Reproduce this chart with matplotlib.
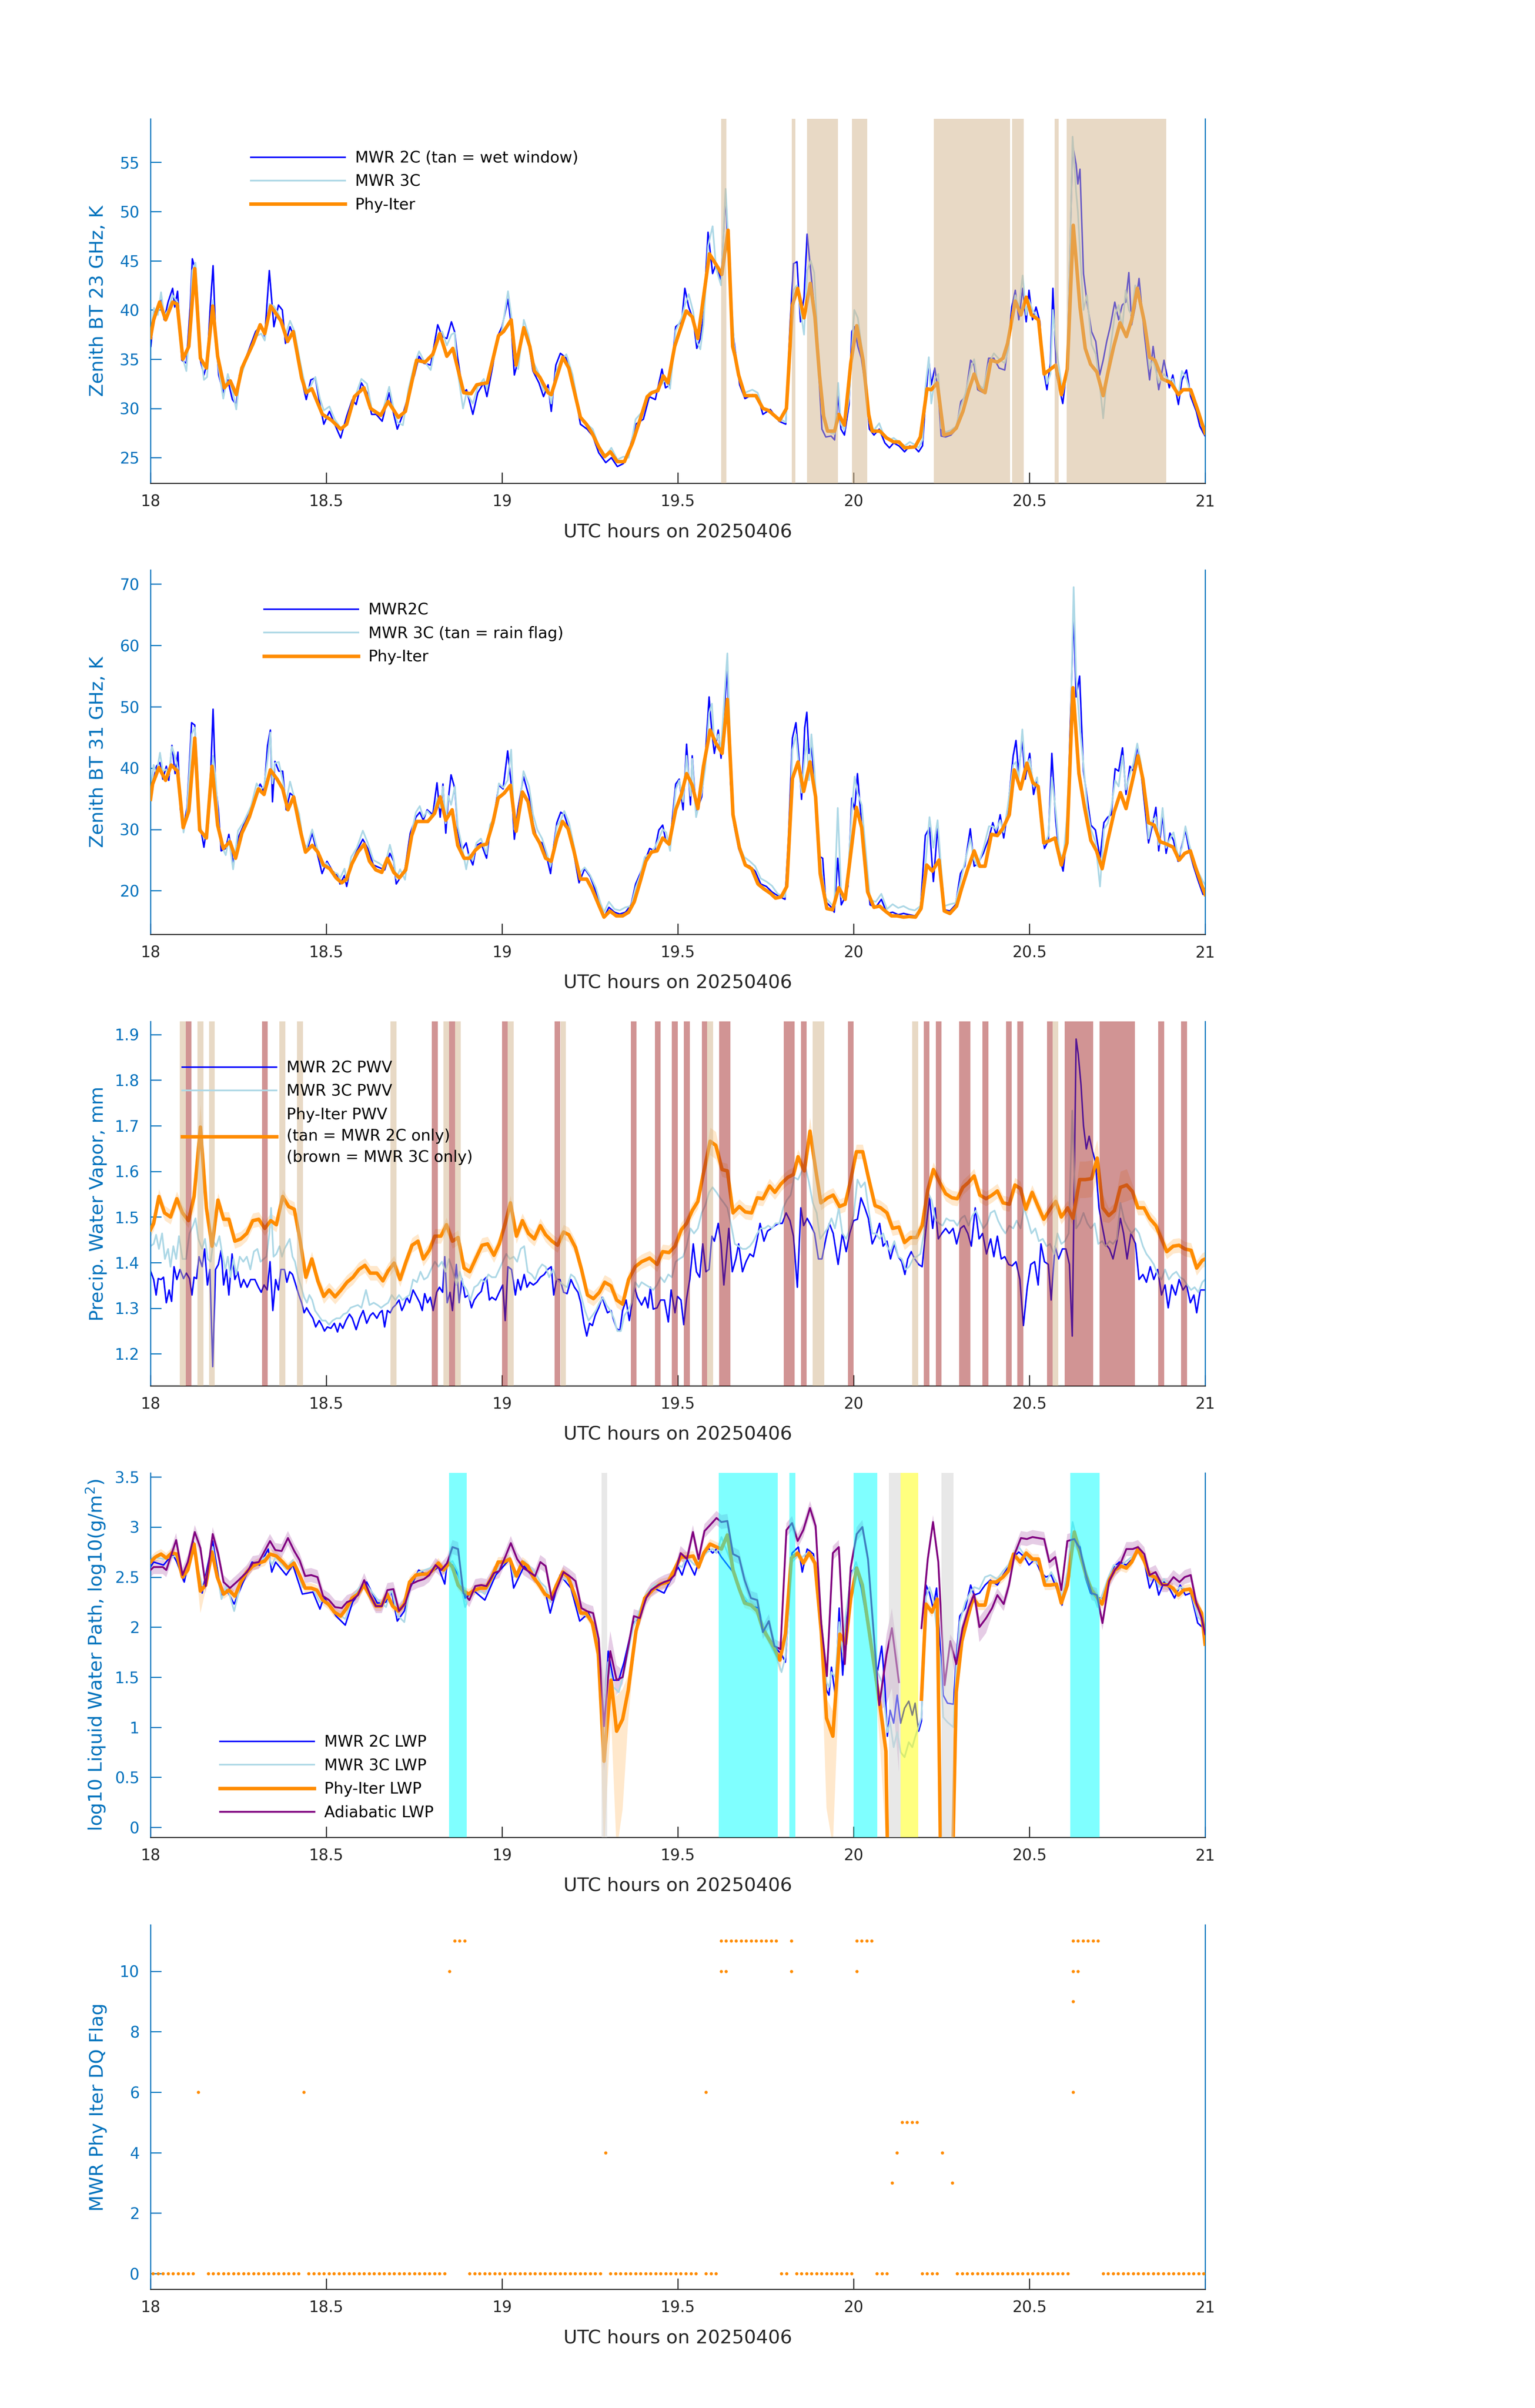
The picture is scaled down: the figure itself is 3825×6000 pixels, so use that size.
import numpy as np
import matplotlib.pyplot as plt
from matplotlib.ticker import FuncFormatter

AXBLUE = '#0072BD'
DARK = '#262626'
C2 = 'blue'
C3 = 'lightblue'
CPHY = 'darkorange'
CADI = 'purple'

# ---------------- Panel 1: 23 GHz brightness temperature ----------------
# (time, MWR 2C, MWR 3C)
bt23_mwr = [
    (18.001, 36.3, 37.5), (18.010, 39.8, 40.2), (18.021, 40.3, 39.5), (18.030, 41.0, 41.8), (18.039, 39.0, 39.4),
    (18.050, 40.8, 40.0), (18.063, 42.2, 41.5), (18.069, 40.3, 41.2), (18.077, 41.9, 40.8), (18.089, 34.9, 35.5),
    (18.102, 34.6, 33.8), (18.113, 40.3, 39.0), (18.119, 45.2, 44.0), (18.128, 44.0, 44.8), (18.142, 34.9, 36.0),
    (18.152, 33.4, 32.9), (18.161, 34.6, 33.2), (18.170, 40.3, 38.5), (18.178, 44.5, 41.0), (18.185, 37.8, 36.6),
    (18.194, 33.4, 34.0), (18.207, 31.6, 31.0), (18.220, 32.9, 33.5), (18.233, 30.9, 31.8), (18.244, 30.4, 29.9),
    (18.253, 33.4, 32.8), (18.273, 35.3, 35.0), (18.299, 37.8, 37.3), (18.315, 38.5, 37.6), (18.325, 37.3, 36.9),
    (18.338, 44.0, 40.6), (18.351, 38.3, 40.4), (18.364, 40.5, 39.6), (18.375, 40.0, 38.5), (18.384, 36.6, 37.5),
    (18.397, 38.3, 38.9), (18.410, 37.1, 37.8), (18.427, 33.4, 34.5), (18.443, 30.9, 31.8), (18.456, 32.9, 32.3),
    (18.469, 33.1, 33.2), (18.482, 30.4, 31.0), (18.493, 28.4, 29.8), (18.509, 29.7, 30.2), (18.524, 28.4, 28.9),
    (18.541, 27.0, 28.0), (18.558, 29.2, 28.3), (18.574, 30.9, 30.5), (18.585, 30.4, 31.5), (18.600, 32.6, 33.0),
    (18.616, 31.6, 32.5), (18.629, 29.4, 30.0), (18.642, 29.4, 29.6), (18.659, 28.7, 29.5), (18.679, 31.6, 32.2),
    (18.692, 29.4, 29.9), (18.702, 27.9, 28.6), (18.718, 29.4, 28.3), (18.734, 31.4, 32.0), (18.751, 33.4, 34.5),
    (18.764, 35.3, 35.8), (18.777, 34.6, 34.9), (18.797, 34.4, 33.9), (18.817, 38.5, 37.5), (18.830, 37.3, 37.8),
    (18.843, 37.1, 36.4), (18.856, 38.8, 37.5), (18.865, 37.8, 37.7), (18.873, 35.3, 34.0), (18.889, 31.6, 30.0),
    (18.899, 31.9, 31.6), (18.917, 29.4, 30.5), (18.931, 31.6, 32.2), (18.948, 32.6, 33.0), (18.957, 31.2, 32.0),
    (18.974, 34.4, 35.0), (18.987, 37.3, 36.8), (19.000, 38.3, 38.0), (19.017, 41.1, 41.9), (19.026, 38.5, 39.5),
    (19.035, 33.4, 35.0), (19.046, 34.9, 34.0), (19.062, 38.3, 39.0), (19.075, 36.8, 37.5), (19.088, 33.8, 34.8),
    (19.105, 32.6, 33.5), (19.118, 31.2, 31.8), (19.131, 32.4, 32.0), (19.140, 29.7, 30.5), (19.153, 34.4, 33.6),
    (19.166, 35.6, 34.8), (19.183, 35.1, 35.5), (19.201, 32.9, 33.4), (19.223, 28.4, 29.0), (19.242, 27.9, 28.4),
    (19.258, 27.2, 27.9), (19.275, 25.5, 26.2), (19.295, 24.5, 25.2), (19.311, 25.0, 26.0), (19.328, 24.1, 24.8),
    (19.345, 24.4, 25.1), (19.360, 25.5, 25.0), (19.380, 28.4, 28.9), (19.402, 28.9, 29.8), (19.419, 31.2, 31.6),
    (19.436, 30.9, 31.8), (19.455, 34.0, 32.5), (19.465, 32.1, 32.9), (19.478, 32.4, 32.0), (19.494, 38.3, 37.9),
    (19.511, 38.8, 39.2), (19.520, 42.2, 40.5), (19.531, 40.3, 41.6), (19.544, 39.0, 39.8), (19.554, 36.1, 36.8),
    (19.564, 37.1, 36.0), (19.573, 39.3, 38.5), (19.586, 47.9, 46.5), (19.599, 43.7, 48.5), (19.609, 44.7, 44.2),
    (19.623, 43.0, 42.5), (19.636, 51.6, 52.3), (19.651, 40.3, 42.0), (19.660, 36.8, 36.4), (19.676, 32.4, 33.0),
    (19.691, 31.0, 31.6), (19.712, 31.4, 31.9), (19.727, 31.3, 31.6), (19.742, 29.4, 30.0), (19.763, 29.9, 29.6),
    (19.788, 28.7, 29.0), (19.807, 28.4, 28.6), (19.819, 38.3, 36.0), (19.829, 44.7, 42.0), (19.839, 44.9, 42.5),
    (19.849, 38.8, 40.0), (19.859, 41.3, 37.5), (19.868, 47.7, 44.0), (19.878, 44.0, 45.0), (19.888, 40.3, 43.8),
    (19.898, 35.3, 37.0), (19.910, 27.9, 29.5), (19.921, 27.1, 28.0), (19.936, 27.2, 27.5), (19.946, 26.8, 27.4),
    (19.956, 31.4, 32.6), (19.964, 27.9, 28.4), (19.974, 27.3, 27.8), (19.987, 30.4, 31.0), (19.995, 37.8, 36.0),
    (20.002, 38.3, 40.0), (20.012, 36.3, 39.2), (20.022, 35.1, 36.5), (20.033, 32.4, 33.8), (20.045, 27.9, 28.5),
    (20.058, 27.3, 27.8), (20.073, 27.9, 28.5), (20.089, 26.5, 27.0), (20.102, 26.0, 26.8), (20.114, 26.5, 27.0),
    (20.129, 26.2, 26.6), (20.145, 25.6, 26.2), (20.160, 26.2, 26.6), (20.175, 26.0, 26.3), (20.185, 25.6, 26.0),
    (20.196, 26.2, 26.8), (20.204, 30.4, 32.0), (20.214, 34.9, 35.2), (20.221, 32.4, 30.5), (20.231, 34.1, 33.0),
    (20.241, 31.6, 33.5), (20.249, 27.2, 28.0), (20.262, 27.1, 27.6), (20.277, 27.3, 27.8), (20.292, 27.9, 28.2),
    (20.305, 30.7, 30.2), (20.318, 31.2, 31.5), (20.333, 34.9, 34.0), (20.343, 34.4, 35.0), (20.353, 31.9, 32.5),
    (20.369, 31.6, 32.0), (20.384, 35.1, 34.5), (20.399, 35.1, 35.6), (20.414, 34.1, 35.0), (20.430, 33.9, 34.6),
    (20.440, 36.6, 36.0), (20.450, 40.3, 39.5), (20.460, 42.0, 41.5), (20.470, 39.0, 40.2), (20.481, 42.2, 43.5),
    (20.491, 38.8, 39.5), (20.499, 42.0, 41.0), (20.509, 39.0, 40.0), (20.519, 40.3, 39.5), (20.530, 38.8, 38.0),
    (20.537, 34.6, 35.5), (20.550, 31.9, 32.5), (20.560, 34.6, 33.5), (20.567, 42.2, 40.0), (20.577, 33.4, 36.0),
    (20.595, 30.5, 31.5), (20.608, 34.4, 33.5), (20.623, 56.8, 57.6), (20.633, 54.8, 52.0), (20.638, 52.8, 50.0),
    (20.644, 54.3, 46.0), (20.654, 43.7, 40.0), (20.664, 40.8, 41.5), (20.677, 37.8, 36.5), (20.689, 36.8, 35.5),
    (20.700, 33.4, 32.5), (20.710, 34.9, 29.0), (20.720, 36.8, 33.0), (20.730, 38.3, 36.0), (20.743, 40.8, 39.5),
    (20.754, 39.0, 40.5), (20.764, 40.5, 38.0), (20.774, 40.8, 42.0), (20.783, 43.8, 40.0), (20.791, 38.5, 39.5),
    (20.801, 40.3, 42.5), (20.812, 43.2, 42.0), (20.827, 37.6, 38.5), (20.842, 32.9, 34.0), (20.852, 36.3, 35.0),
    (20.868, 31.9, 32.6), (20.883, 34.9, 33.5), (20.898, 32.1, 32.8), (20.908, 33.4, 33.0), (20.924, 30.4, 31.2),
    (20.934, 32.9, 33.8), (20.947, 33.9, 33.0), (20.959, 31.2, 31.5), (20.975, 29.7, 30.5), (20.985, 28.2, 29.5),
    (20.995, 27.5, 28.2), (21.000, 27.2, 28.0),
]
bt23_phy = [
    (18.000, 37.2), (18.009, 39.0), (18.026, 40.8), (18.043, 39.0), (18.063, 40.8), (18.076, 40.6), (18.092, 35.0),
    (18.109, 36.3), (18.126, 44.2), (18.142, 35.1), (18.159, 34.1), (18.177, 40.4), (18.191, 35.3), (18.210, 32.1),
    (18.227, 32.8), (18.244, 31.4), (18.260, 34.1), (18.292, 36.6), (18.312, 38.5), (18.325, 37.6), (18.342, 40.4),
    (18.371, 38.9), (18.390, 36.8), (18.406, 37.8), (18.430, 33.1), (18.443, 31.6), (18.459, 32.0), (18.489, 29.4),
    (18.515, 28.8), (18.541, 27.9), (18.558, 28.4), (18.580, 31.2), (18.607, 32.1), (18.626, 30.0), (18.655, 29.3),
    (18.676, 30.7), (18.705, 29.1), (18.725, 29.7), (18.757, 34.9), (18.781, 34.7), (18.803, 35.5), (18.823, 37.6),
    (18.843, 35.3), (18.860, 36.1), (18.891, 31.6), (18.912, 31.5), (18.928, 32.4), (18.941, 32.5), (18.958, 32.6),
    (18.990, 37.4), (19.004, 37.8), (19.026, 39.0), (19.040, 34.4), (19.062, 38.2), (19.079, 36.3), (19.092, 33.8),
    (19.107, 33.2), (19.131, 31.6), (19.140, 31.4), (19.173, 35.2), (19.190, 34.1), (19.223, 29.1), (19.240, 28.4),
    (19.256, 27.5), (19.275, 26.1), (19.292, 25.1), (19.308, 25.6), (19.328, 24.6), (19.348, 24.6), (19.371, 26.5),
    (19.393, 28.9), (19.413, 31.2), (19.426, 31.6), (19.443, 31.8), (19.459, 33.3), (19.472, 32.6), (19.491, 36.3),
    (19.524, 39.9), (19.541, 39.3), (19.557, 37.1), (19.590, 45.7), (19.616, 44.2), (19.625, 43.6), (19.643, 48.1),
    (19.656, 36.3), (19.663, 35.3), (19.673, 33.4), (19.691, 31.3), (19.722, 31.3), (19.742, 30.0), (19.758, 29.8),
    (19.790, 28.8), (19.809, 30.0), (19.826, 40.5), (19.841, 42.2), (19.859, 39.2), (19.877, 42.7), (19.890, 39.3),
    (19.903, 33.4), (19.915, 29.2), (19.926, 27.7), (19.946, 27.7), (19.958, 29.4), (19.974, 28.3), (19.992, 34.6),
    (20.009, 38.4), (20.027, 34.9), (20.043, 29.4), (20.053, 27.7), (20.075, 27.7), (20.094, 27.0), (20.114, 26.6),
    (20.129, 26.6), (20.145, 26.0), (20.175, 26.1), (20.190, 27.1), (20.209, 32.0), (20.221, 31.9), (20.238, 32.6),
    (20.257, 27.3), (20.277, 27.5), (20.292, 28.0), (20.311, 29.7), (20.328, 31.9), (20.343, 33.5), (20.358, 32.0),
    (20.374, 31.6), (20.391, 34.9), (20.409, 34.7), (20.425, 35.1), (20.438, 36.6), (20.460, 40.9), (20.476, 39.5),
    (20.491, 41.3), (20.506, 39.5), (20.526, 39.0), (20.542, 33.5), (20.575, 34.4), (20.591, 31.4), (20.608, 34.0),
    (20.625, 48.6), (20.644, 40.3), (20.659, 36.1), (20.674, 34.5), (20.692, 33.7), (20.710, 31.3), (20.725, 33.9),
    (20.740, 36.3), (20.758, 38.7), (20.776, 37.3), (20.791, 39.0), (20.807, 42.2), (20.827, 38.8), (20.842, 35.2),
    (20.857, 34.9), (20.878, 33.0), (20.903, 32.6), (20.924, 31.4), (20.937, 31.9), (20.959, 31.9), (20.980, 29.7),
    (21.000, 27.5),
]
wet_window = [(19.623, 19.638), (19.824, 19.834), (19.868, 19.956), (19.995, 20.039), (20.228, 20.445),
              (20.451, 20.484), (20.572, 20.583), (20.606, 20.889)]

# ---------------- Panel 2: 31 GHz brightness temperature ----------------
bt31_mwr = [
    (18.000, 35.3, 36.0), (18.009, 38.2, 40.5), (18.017, 40.3, 39.0), (18.027, 40.9, 42.5), (18.035, 38.2, 39.5),
    (18.045, 40.3, 39.8), (18.052, 38.0, 38.8), (18.061, 43.7, 43.5), (18.070, 39.1, 41.8), (18.078, 42.6, 40.0),
    (18.085, 33.2, 35.5), (18.094, 30.3, 29.5), (18.104, 33.6, 33.0), (18.117, 47.4, 45.5), (18.126, 47.0, 46.6),
    (18.133, 38.6, 40.5), (18.140, 31.1, 30.8), (18.152, 27.1, 28.5), (18.165, 32.4, 31.0), (18.172, 40.3, 38.0),
    (18.178, 49.6, 42.0), (18.185, 37.4, 38.5), (18.193, 33.2, 31.5), (18.201, 26.5, 27.5), (18.214, 26.9, 25.8),
    (18.223, 29.2, 28.5), (18.235, 24.4, 23.5), (18.249, 28.6, 29.8), (18.265, 30.7, 31.2), (18.286, 33.2, 33.8),
    (18.302, 36.1, 37.5), (18.312, 37.4, 36.5), (18.323, 36.1, 37.0), (18.333, 43.7, 41.5), (18.341, 46.2, 45.8),
    (18.347, 34.5, 37.5), (18.354, 41.1, 40.8), (18.365, 39.5, 41.0), (18.376, 39.5, 38.0), (18.386, 33.2, 34.5),
    (18.397, 35.9, 37.8), (18.410, 35.3, 35.0), (18.423, 31.1, 32.5), (18.434, 28.2, 28.0), (18.444, 26.3, 27.0),
    (18.460, 29.4, 30.0), (18.476, 25.7, 26.5), (18.488, 22.8, 24.0), (18.502, 24.8, 24.5), (18.518, 23.2, 23.0),
    (18.532, 22.5, 22.8), (18.539, 21.1, 22.0), (18.552, 22.5, 23.6), (18.558, 20.7, 21.5), (18.571, 24.4, 25.5),
    (18.587, 26.5, 27.0), (18.604, 28.4, 29.8), (18.618, 26.9, 27.8), (18.634, 24.2, 25.0), (18.650, 23.8, 24.5),
    (18.666, 23.4, 23.8), (18.681, 26.1, 27.5), (18.692, 24.8, 25.0), (18.699, 21.1, 22.0), (18.710, 22.1, 23.5),
    (18.724, 23.6, 21.8), (18.739, 29.4, 28.5), (18.755, 32.0, 32.8), (18.766, 32.8, 33.8), (18.776, 31.5, 32.0),
    (18.787, 33.2, 33.0), (18.803, 32.4, 32.0), (18.815, 37.6, 35.0), (18.824, 32.0, 33.5), (18.832, 37.4, 37.0),
    (18.840, 29.4, 31.0), (18.847, 34.9, 35.5), (18.855, 38.9, 34.0), (18.866, 36.6, 37.0), (18.874, 29.9, 30.5),
    (18.885, 26.5, 27.5), (18.898, 27.8, 23.5), (18.906, 25.7, 26.0), (18.917, 24.2, 25.0), (18.927, 27.4, 27.8),
    (18.940, 27.8, 28.5), (18.956, 25.3, 26.0), (18.966, 29.9, 30.8), (18.980, 33.2, 32.0), (18.991, 37.2, 37.5),
    (19.003, 36.6, 36.8), (19.016, 42.8, 38.0), (19.026, 37.4, 43.0), (19.035, 28.4, 30.0), (19.045, 33.2, 31.5),
    (19.061, 38.6, 39.5), (19.077, 35.3, 37.0), (19.088, 31.1, 32.5), (19.100, 28.2, 30.0), (19.114, 27.8, 28.5),
    (19.128, 25.3, 26.0), (19.138, 22.8, 24.0), (19.146, 26.9, 26.5), (19.156, 31.1, 30.5), (19.167, 32.8, 31.5),
    (19.177, 32.4, 33.0), (19.191, 29.9, 31.0), (19.204, 26.1, 27.5), (19.219, 21.3, 22.8), (19.235, 23.6, 23.8),
    (19.251, 22.3, 22.5), (19.267, 19.8, 20.5), (19.280, 17.3, 18.0), (19.290, 15.7, 16.5), (19.304, 17.3, 18.2),
    (19.320, 16.5, 17.0), (19.335, 16.2, 16.8), (19.351, 16.5, 17.3), (19.367, 17.7, 17.5), (19.380, 21.1, 20.5),
    (19.393, 22.8, 22.5), (19.406, 24.8, 25.5), (19.420, 26.9, 26.0), (19.434, 26.5, 27.0), (19.446, 29.9, 28.5),
    (19.457, 30.7, 30.0), (19.467, 27.8, 29.5), (19.478, 27.8, 26.5), (19.494, 37.4, 36.5), (19.504, 38.2, 38.0),
    (19.515, 33.2, 34.5), (19.525, 43.9, 42.0), (19.536, 34.0, 35.5), (19.541, 42.0, 41.5), (19.552, 32.8, 32.0),
    (19.568, 35.3, 36.0), (19.578, 41.6, 40.0), (19.589, 51.6, 49.0), (19.597, 45.8, 50.5), (19.604, 42.4, 44.0),
    (19.615, 46.2, 45.5), (19.623, 41.6, 43.0), (19.633, 50.0, 52.0), (19.641, 56.5, 58.7), (19.650, 37.4, 42.0),
    (19.660, 30.7, 31.5), (19.673, 26.9, 27.5), (19.689, 24.4, 25.5), (19.705, 24.0, 24.8), (19.720, 23.2, 24.0),
    (19.736, 21.1, 22.0), (19.752, 20.7, 21.5), (19.768, 19.8, 20.8), (19.784, 19.2, 19.5), (19.805, 18.6, 19.0),
    (19.815, 29.0, 25.0), (19.826, 44.9, 43.0), (19.836, 47.4, 45.5), (19.844, 42.0, 40.5), (19.852, 34.9, 36.0),
    (19.861, 46.6, 42.0), (19.867, 49.1, 44.5), (19.873, 42.4, 38.0), (19.880, 43.7, 45.5), (19.889, 37.4, 39.5),
    (19.900, 25.7, 27.5), (19.912, 25.3, 22.0), (19.921, 18.2, 18.8), (19.937, 17.3, 17.8), (19.945, 16.5, 17.5),
    (19.955, 25.3, 33.5), (19.965, 17.7, 19.0), (19.976, 19.0, 18.5), (19.984, 20.7, 22.5), (19.995, 35.1, 33.0),
    (20.003, 33.2, 38.6), (20.011, 39.1, 36.0), (20.023, 30.7, 34.0), (20.037, 22.8, 25.0), (20.047, 17.7, 18.5),
    (20.063, 17.3, 18.2), (20.079, 18.6, 19.5), (20.095, 16.3, 17.0), (20.111, 16.5, 17.8), (20.127, 16.1, 17.2),
    (20.142, 16.3, 17.5), (20.158, 16.1, 17.0), (20.174, 15.9, 16.8), (20.190, 16.9, 17.5), (20.204, 29.0, 24.0),
    (20.216, 30.3, 32.0), (20.227, 21.5, 27.0), (20.239, 30.3, 31.5), (20.248, 23.6, 24.5), (20.258, 16.9, 17.5),
    (20.274, 16.7, 17.8), (20.290, 17.7, 18.0), (20.304, 22.8, 21.5), (20.316, 24.0, 24.5), (20.332, 30.1, 28.5),
    (20.343, 24.0, 25.0), (20.353, 24.4, 24.0), (20.369, 26.1, 26.8), (20.385, 28.6, 30.5), (20.396, 31.1, 30.5),
    (20.406, 29.0, 30.0), (20.417, 32.4, 31.5), (20.427, 28.6, 29.5), (20.438, 32.8, 33.5), (20.454, 42.0, 40.5),
    (20.462, 44.5, 41.0), (20.469, 39.5, 38.0), (20.480, 44.5, 46.3), (20.488, 38.2, 40.0), (20.501, 42.4, 41.5),
    (20.512, 35.7, 37.0), (20.522, 38.2, 38.5), (20.533, 31.1, 32.0), (20.543, 26.9, 27.5), (20.554, 28.2, 29.0),
    (20.564, 42.4, 38.5), (20.575, 31.5, 33.0), (20.585, 25.7, 26.5), (20.596, 23.2, 25.0), (20.607, 29.0, 32.0),
    (20.617, 48.3, 46.0), (20.626, 65.4, 69.5), (20.633, 51.6, 55.0), (20.643, 55.0, 47.0), (20.654, 39.5, 40.5),
    (20.665, 34.9, 33.5), (20.675, 30.7, 30.0), (20.688, 29.9, 28.0), (20.701, 25.3, 20.7), (20.712, 31.1, 30.0),
    (20.723, 32.0, 31.0), (20.733, 32.4, 33.5), (20.744, 39.9, 38.0), (20.754, 39.5, 37.0), (20.765, 43.3, 42.0),
    (20.775, 35.7, 36.5), (20.786, 40.3, 39.0), (20.796, 39.5, 40.8), (20.807, 43.7, 44.0), (20.818, 39.1, 40.5),
    (20.828, 34.0, 36.0), (20.839, 27.8, 28.5), (20.850, 30.7, 31.5), (20.860, 33.6, 32.0), (20.868, 26.5, 27.5),
    (20.879, 32.4, 33.5), (20.889, 26.1, 27.0), (20.900, 29.4, 28.5), (20.910, 28.2, 29.5), (20.923, 24.8, 25.5),
    (20.934, 27.4, 27.0), (20.944, 29.9, 30.5), (20.955, 26.5, 27.5), (20.967, 24.0, 25.0), (20.981, 21.5, 23.0),
    (20.994, 19.4, 21.5), (21.000, 19.8, 21.0),
]
bt31_phy = [
    (18.000, 34.9), (18.006, 37.4), (18.024, 40.1), (18.043, 38.0), (18.059, 40.5), (18.077, 39.5), (18.093, 30.3),
    (18.109, 33.0), (18.126, 44.9), (18.140, 29.9), (18.159, 28.6), (18.175, 40.3), (18.191, 30.7), (18.207, 26.9),
    (18.226, 28.0), (18.242, 25.3), (18.260, 29.4), (18.281, 32.0), (18.307, 36.6), (18.323, 35.7), (18.341, 39.7),
    (18.360, 38.2), (18.376, 36.6), (18.391, 33.2), (18.407, 35.3), (18.428, 29.4), (18.441, 26.3), (18.460, 27.4),
    (18.476, 26.3), (18.492, 24.2), (18.510, 23.6), (18.528, 22.1), (18.544, 21.3), (18.558, 21.9), (18.573, 24.4),
    (18.590, 26.3), (18.608, 27.6), (18.623, 24.8), (18.641, 23.4), (18.658, 23.0), (18.674, 25.3), (18.692, 23.0),
    (18.708, 22.1), (18.726, 23.4), (18.743, 29.0), (18.757, 31.3), (18.789, 31.3), (18.808, 32.6), (18.824, 35.3),
    (18.840, 31.5), (18.858, 33.2), (18.874, 27.4), (18.892, 25.3), (18.908, 25.3), (18.924, 26.6), (18.940, 27.4),
    (18.956, 27.6), (18.974, 31.1), (18.989, 35.1), (19.006, 35.9), (19.024, 37.2), (19.040, 29.7), (19.058, 36.1),
    (19.074, 34.5), (19.091, 29.4), (19.107, 27.8), (19.124, 25.3), (19.140, 24.8), (19.156, 28.6), (19.172, 31.3),
    (19.188, 30.1), (19.204, 26.6), (19.223, 21.9), (19.241, 21.9), (19.256, 20.3), (19.275, 17.7), (19.290, 15.7),
    (19.307, 16.7), (19.325, 15.9), (19.343, 15.9), (19.360, 16.5), (19.376, 18.2), (19.393, 21.5), (19.409, 24.8),
    (19.425, 26.3), (19.441, 26.5), (19.457, 28.6), (19.475, 27.6), (19.494, 33.2), (19.510, 35.7), (19.525, 39.1),
    (19.541, 37.2), (19.557, 33.4), (19.573, 40.3), (19.592, 46.2), (19.608, 44.1), (19.626, 42.4), (19.641, 51.2),
    (19.657, 32.4), (19.675, 27.1), (19.692, 24.2), (19.710, 23.6), (19.728, 21.1), (19.745, 20.3), (19.763, 19.6),
    (19.778, 18.8), (19.794, 19.0), (19.810, 20.7), (19.826, 38.3), (19.842, 41.0), (19.858, 36.2), (19.876, 41.0),
    (19.892, 35.3), (19.905, 22.8), (19.924, 17.1), (19.940, 16.9), (19.958, 20.5), (19.976, 18.6), (19.992, 26.1),
    (20.008, 33.6), (20.023, 30.3), (20.040, 19.8), (20.058, 17.3), (20.074, 17.5), (20.090, 16.7), (20.108, 15.9),
    (20.124, 15.9), (20.142, 15.7), (20.158, 15.8), (20.176, 15.7), (20.192, 17.1), (20.208, 24.2), (20.224, 23.2),
    (20.243, 25.0), (20.258, 16.7), (20.274, 16.3), (20.293, 17.5), (20.308, 20.5), (20.325, 23.6), (20.343, 26.5),
    (20.359, 24.0), (20.374, 24.0), (20.392, 29.2), (20.409, 29.0), (20.424, 30.1), (20.443, 32.4), (20.457, 39.7),
    (20.475, 36.6), (20.493, 40.8), (20.510, 37.6), (20.525, 37.0), (20.541, 27.8), (20.559, 28.2), (20.573, 28.6),
    (20.591, 24.2), (20.607, 27.8), (20.624, 53.1), (20.641, 39.1), (20.657, 33.6), (20.675, 28.2), (20.691, 26.5),
    (20.707, 23.6), (20.723, 28.2), (20.741, 32.8), (20.759, 36.0), (20.775, 33.4), (20.791, 37.4), (20.809, 42.0),
    (20.823, 38.2), (20.839, 31.1), (20.855, 30.7), (20.872, 28.0), (20.891, 27.6), (20.909, 27.1), (20.926, 25.0),
    (20.942, 26.1), (20.958, 26.5), (20.974, 23.6), (20.989, 21.1), (21.000, 19.4),
]

# ---------------- Panel 3: precipitable water vapor ----------------
pwv_2c = [
    (18.000, 1.382), (18.009, 1.363), (18.016, 1.329), (18.022, 1.365), (18.030, 1.363), (18.037, 1.368),
    (18.045, 1.312), (18.053, 1.340), (18.060, 1.315), (18.067, 1.391), (18.075, 1.363), (18.084, 1.385),
    (18.094, 1.365), (18.102, 1.377), (18.111, 1.365), (18.118, 1.329), (18.124, 1.368), (18.131, 1.365),
    (18.138, 1.413), (18.147, 1.391), (18.154, 1.430), (18.162, 1.351), (18.169, 1.385), (18.177, 1.172),
    (18.185, 1.385), (18.193, 1.396), (18.201, 1.427), (18.208, 1.351), (18.216, 1.385), (18.223, 1.329),
    (18.232, 1.419), (18.240, 1.363), (18.248, 1.380), (18.257, 1.346), (18.265, 1.363), (18.275, 1.346),
    (18.285, 1.363), (18.297, 1.363), (18.307, 1.346), (18.315, 1.335), (18.323, 1.351), (18.332, 1.340),
    (18.340, 1.402), (18.348, 1.295), (18.356, 1.363), (18.364, 1.340), (18.371, 1.385), (18.381, 1.385),
    (18.388, 1.357), (18.396, 1.380), (18.404, 1.374), (18.411, 1.357), (18.422, 1.329), (18.430, 1.312),
    (18.437, 1.290), (18.444, 1.301), (18.452, 1.290), (18.462, 1.278), (18.470, 1.259), (18.480, 1.273),
    (18.488, 1.262), (18.495, 1.250), (18.503, 1.259), (18.513, 1.256), (18.523, 1.267), (18.532, 1.248),
    (18.539, 1.267), (18.547, 1.256), (18.556, 1.273), (18.566, 1.287), (18.574, 1.278), (18.585, 1.253),
    (18.595, 1.278), (18.605, 1.295), (18.615, 1.267), (18.625, 1.284), (18.633, 1.290), (18.644, 1.278),
    (18.652, 1.290), (18.659, 1.295), (18.666, 1.259), (18.674, 1.295), (18.682, 1.290), (18.689, 1.301),
    (18.697, 1.307), (18.707, 1.318), (18.715, 1.295), (18.722, 1.307), (18.729, 1.324), (18.737, 1.312),
    (18.747, 1.340), (18.758, 1.324), (18.766, 1.312), (18.773, 1.295), (18.780, 1.332), (18.788, 1.312),
    (18.796, 1.324), (18.804, 1.295), (18.814, 1.335), (18.822, 1.346), (18.831, 1.335), (18.837, 1.413),
    (18.844, 1.312), (18.852, 1.335), (18.859, 1.295), (18.870, 1.396), (18.878, 1.312), (18.886, 1.365),
    (18.895, 1.324), (18.905, 1.329), (18.913, 1.301), (18.921, 1.318), (18.931, 1.329), (18.941, 1.337),
    (18.949, 1.363), (18.956, 1.368), (18.964, 1.318), (18.971, 1.324), (18.982, 1.318), (18.992, 1.335),
    (19.002, 1.351), (19.009, 1.273), (19.017, 1.391), (19.027, 1.385), (19.038, 1.329), (19.045, 1.363),
    (19.053, 1.340), (19.063, 1.374), (19.071, 1.346), (19.079, 1.357), (19.089, 1.351), (19.099, 1.357),
    (19.109, 1.368), (19.120, 1.374), (19.130, 1.385), (19.140, 1.391), (19.147, 1.329), (19.155, 1.363),
    (19.165, 1.363), (19.175, 1.335), (19.185, 1.332), (19.196, 1.363), (19.206, 1.346), (19.216, 1.335),
    (19.224, 1.312), (19.233, 1.267), (19.241, 1.239), (19.249, 1.267), (19.257, 1.262), (19.265, 1.284),
    (19.275, 1.301), (19.285, 1.324), (19.292, 1.307), (19.300, 1.290), (19.310, 1.295), (19.318, 1.273),
    (19.326, 1.256), (19.335, 1.250), (19.343, 1.295), (19.353, 1.318), (19.362, 1.273), (19.369, 1.307),
    (19.377, 1.346), (19.385, 1.324), (19.397, 1.307), (19.407, 1.324), (19.415, 1.301), (19.422, 1.346),
    (19.430, 1.298), (19.441, 1.301), (19.451, 1.318), (19.462, 1.318), (19.473, 1.270), (19.481, 1.340),
    (19.492, 1.290), (19.499, 1.326), (19.509, 1.318), (19.517, 1.264), (19.525, 1.321), (19.534, 1.363),
    (19.544, 1.441), (19.553, 1.380), (19.562, 1.368), (19.571, 1.441), (19.580, 1.380), (19.589, 1.385),
    (19.597, 1.458), (19.604, 1.447), (19.615, 1.486), (19.623, 1.441), (19.631, 1.351), (19.645, 1.475),
    (19.655, 1.380), (19.665, 1.408), (19.673, 1.441), (19.684, 1.380), (19.694, 1.402), (19.705, 1.419),
    (19.715, 1.413), (19.726, 1.452), (19.734, 1.486), (19.745, 1.447), (19.755, 1.469), (19.766, 1.475),
    (19.776, 1.481), (19.787, 1.486), (19.797, 1.486), (19.808, 1.509), (19.819, 1.492), (19.829, 1.458),
    (19.840, 1.346), (19.850, 1.520), (19.858, 1.481), (19.868, 1.497), (19.879, 1.481), (19.889, 1.464),
    (19.900, 1.408), (19.910, 1.408), (19.921, 1.452), (19.931, 1.486), (19.942, 1.464), (19.956, 1.396),
    (19.968, 1.464), (19.979, 1.424), (19.989, 1.464), (20.000, 1.492), (20.011, 1.495), (20.021, 1.542),
    (20.032, 1.520), (20.042, 1.497), (20.053, 1.441), (20.063, 1.458), (20.074, 1.486), (20.084, 1.436),
    (20.095, 1.447), (20.105, 1.408), (20.116, 1.441), (20.127, 1.413), (20.137, 1.402), (20.146, 1.374),
    (20.154, 1.408), (20.164, 1.424), (20.174, 1.408), (20.185, 1.396), (20.195, 1.391), (20.206, 1.475),
    (20.216, 1.542), (20.225, 1.475), (20.232, 1.520), (20.241, 1.452), (20.251, 1.464), (20.262, 1.475),
    (20.272, 1.464), (20.283, 1.475), (20.293, 1.441), (20.304, 1.475), (20.314, 1.481), (20.325, 1.464),
    (20.335, 1.436), (20.346, 1.520), (20.357, 1.452), (20.367, 1.464), (20.378, 1.419), (20.390, 1.452),
    (20.399, 1.413), (20.409, 1.458), (20.420, 1.408), (20.430, 1.413), (20.441, 1.396), (20.451, 1.393),
    (20.462, 1.402), (20.473, 1.363), (20.483, 1.262), (20.494, 1.346), (20.504, 1.396), (20.515, 1.402),
    (20.525, 1.351), (20.533, 1.441), (20.543, 1.402), (20.554, 1.396), (20.562, 1.318), (20.573, 1.436),
    (20.583, 1.408), (20.594, 1.430), (20.604, 1.430), (20.614, 1.396), (20.622, 1.239), (20.633, 1.890),
    (20.639, 1.857), (20.647, 1.789), (20.654, 1.700), (20.662, 1.649), (20.670, 1.677), (20.680, 1.643),
    (20.688, 1.621), (20.698, 1.520), (20.707, 1.481), (20.717, 1.441), (20.728, 1.430), (20.738, 1.408),
    (20.749, 1.447), (20.759, 1.497), (20.768, 1.464), (20.778, 1.408), (20.789, 1.464), (20.802, 1.441),
    (20.812, 1.363), (20.823, 1.374), (20.833, 1.357), (20.844, 1.391), (20.854, 1.363), (20.865, 1.385),
    (20.876, 1.329), (20.886, 1.351), (20.895, 1.301), (20.905, 1.351), (20.916, 1.329), (20.926, 1.363),
    (20.937, 1.340), (20.947, 1.351), (20.958, 1.312), (20.968, 1.329), (20.976, 1.290), (20.986, 1.340),
    (21.000, 1.340),
]
pwv_3c = [
    (18.000, 1.436), (18.009, 1.441), (18.016, 1.461), (18.024, 1.430), (18.033, 1.464), (18.041, 1.408),
    (18.050, 1.430), (18.057, 1.391), (18.065, 1.436), (18.073, 1.408), (18.081, 1.458), (18.091, 1.408),
    (18.101, 1.408), (18.111, 1.464), (18.121, 1.481), (18.128, 1.497), (18.136, 1.452), (18.147, 1.430),
    (18.155, 1.452), (18.163, 1.408), (18.171, 1.402), (18.179, 1.447), (18.187, 1.436), (18.196, 1.458),
    (18.204, 1.419), (18.213, 1.385), (18.220, 1.413), (18.228, 1.368), (18.236, 1.408), (18.244, 1.374),
    (18.254, 1.413), (18.264, 1.402), (18.274, 1.413), (18.284, 1.385), (18.294, 1.424), (18.304, 1.430),
    (18.313, 1.402), (18.322, 1.408), (18.330, 1.413), (18.338, 1.464), (18.343, 1.520), (18.350, 1.413),
    (18.358, 1.419), (18.367, 1.436), (18.374, 1.413), (18.381, 1.430), (18.389, 1.441), (18.396, 1.452),
    (18.404, 1.413), (18.411, 1.402), (18.420, 1.368), (18.427, 1.351), (18.437, 1.324), (18.445, 1.312),
    (18.452, 1.329), (18.460, 1.318), (18.468, 1.295), (18.478, 1.284), (18.488, 1.273), (18.498, 1.273),
    (18.508, 1.264), (18.518, 1.273), (18.529, 1.278), (18.539, 1.278), (18.549, 1.287), (18.559, 1.290),
    (18.569, 1.301), (18.579, 1.304), (18.590, 1.307), (18.600, 1.301), (18.613, 1.340), (18.623, 1.307),
    (18.635, 1.312), (18.646, 1.307), (18.656, 1.301), (18.666, 1.307), (18.676, 1.312), (18.686, 1.329),
    (18.697, 1.318), (18.707, 1.329), (18.717, 1.318), (18.727, 1.324), (18.737, 1.329), (18.747, 1.363),
    (18.758, 1.357), (18.768, 1.380), (18.778, 1.363), (18.788, 1.368), (18.798, 1.385), (18.809, 1.402),
    (18.819, 1.391), (18.829, 1.402), (18.839, 1.380), (18.849, 1.408), (18.859, 1.385), (18.870, 1.351),
    (18.880, 1.380), (18.890, 1.351), (18.900, 1.340), (18.910, 1.318), (18.921, 1.346), (18.931, 1.351),
    (18.941, 1.363), (18.951, 1.357), (18.961, 1.374), (18.971, 1.368), (18.982, 1.368), (18.992, 1.385),
    (19.002, 1.402), (19.012, 1.419), (19.022, 1.408), (19.033, 1.413), (19.043, 1.402), (19.053, 1.430),
    (19.063, 1.436), (19.073, 1.380), (19.084, 1.374), (19.094, 1.363), (19.104, 1.385), (19.114, 1.396),
    (19.124, 1.391), (19.134, 1.368), (19.145, 1.385), (19.155, 1.363), (19.165, 1.357), (19.175, 1.351),
    (19.185, 1.346), (19.196, 1.374), (19.206, 1.368), (19.216, 1.351), (19.226, 1.324), (19.236, 1.295),
    (19.246, 1.273), (19.257, 1.284), (19.267, 1.295), (19.277, 1.312), (19.287, 1.324), (19.297, 1.307),
    (19.308, 1.295), (19.318, 1.278), (19.328, 1.250), (19.338, 1.250), (19.348, 1.284), (19.358, 1.295),
    (19.369, 1.312), (19.379, 1.357), (19.389, 1.346), (19.397, 1.357), (19.409, 1.351), (19.420, 1.346),
    (19.430, 1.340), (19.441, 1.351), (19.451, 1.368), (19.462, 1.357), (19.473, 1.374), (19.483, 1.368),
    (19.494, 1.402), (19.504, 1.408), (19.515, 1.413), (19.525, 1.436), (19.536, 1.475), (19.546, 1.464),
    (19.557, 1.475), (19.568, 1.509), (19.578, 1.525), (19.589, 1.554), (19.599, 1.565), (19.610, 1.554),
    (19.620, 1.542), (19.631, 1.531), (19.641, 1.520), (19.652, 1.481), (19.662, 1.441), (19.673, 1.436),
    (19.684, 1.430), (19.694, 1.430), (19.705, 1.436), (19.715, 1.447), (19.726, 1.464), (19.736, 1.475),
    (19.747, 1.475), (19.757, 1.481), (19.768, 1.475), (19.778, 1.486), (19.789, 1.486), (19.800, 1.520),
    (19.810, 1.537), (19.821, 1.548), (19.831, 1.587), (19.842, 1.582), (19.852, 1.599), (19.863, 1.610),
    (19.873, 1.576), (19.884, 1.531), (19.895, 1.509), (19.905, 1.452), (19.916, 1.464), (19.926, 1.475),
    (19.937, 1.497), (19.947, 1.475), (19.958, 1.520), (19.968, 1.464), (19.979, 1.452), (19.989, 1.475),
    (20.000, 1.503), (20.011, 1.582), (20.021, 1.565), (20.032, 1.576), (20.042, 1.520), (20.053, 1.464),
    (20.063, 1.464), (20.074, 1.452), (20.084, 1.464), (20.095, 1.436), (20.105, 1.424), (20.116, 1.447),
    (20.127, 1.413), (20.137, 1.408), (20.148, 1.385), (20.158, 1.391), (20.169, 1.408), (20.179, 1.413),
    (20.190, 1.419), (20.200, 1.464), (20.211, 1.554), (20.222, 1.537), (20.232, 1.497), (20.243, 1.486),
    (20.253, 1.481), (20.264, 1.497), (20.274, 1.492), (20.285, 1.492), (20.295, 1.481), (20.306, 1.497),
    (20.316, 1.503), (20.327, 1.481), (20.338, 1.503), (20.348, 1.514), (20.359, 1.492), (20.369, 1.475),
    (20.380, 1.486), (20.390, 1.509), (20.401, 1.514), (20.411, 1.492), (20.422, 1.475), (20.432, 1.464),
    (20.443, 1.481), (20.454, 1.475), (20.464, 1.492), (20.475, 1.475), (20.485, 1.520), (20.496, 1.492),
    (20.506, 1.464), (20.517, 1.475), (20.527, 1.447), (20.538, 1.452), (20.549, 1.436), (20.559, 1.441),
    (20.570, 1.419), (20.580, 1.464), (20.591, 1.441), (20.601, 1.447), (20.612, 1.464), (20.622, 1.733),
    (20.633, 1.475), (20.643, 1.486), (20.654, 1.509), (20.665, 1.486), (20.675, 1.475), (20.686, 1.486),
    (20.696, 1.441), (20.707, 1.447), (20.717, 1.436), (20.728, 1.447), (20.738, 1.441), (20.749, 1.452),
    (20.759, 1.531), (20.770, 1.492), (20.781, 1.475), (20.791, 1.464), (20.802, 1.475), (20.812, 1.464),
    (20.823, 1.436), (20.833, 1.419), (20.844, 1.408), (20.854, 1.396), (20.865, 1.374), (20.876, 1.363),
    (20.886, 1.385), (20.897, 1.363), (20.907, 1.374), (20.918, 1.380), (20.928, 1.368), (20.939, 1.363),
    (20.949, 1.351), (20.960, 1.340), (20.970, 1.346), (20.981, 1.335), (20.992, 1.357), (21.000, 1.363),
]
pwv_phy = [
    (18.000, 1.472), (18.009, 1.486), (18.024, 1.545), (18.040, 1.509), (18.057, 1.500), (18.075, 1.540),
    (18.091, 1.509), (18.108, 1.492), (18.124, 1.545), (18.142, 1.697), (18.159, 1.520), (18.175, 1.436),
    (18.192, 1.537), (18.208, 1.495), (18.223, 1.495), (18.240, 1.447), (18.257, 1.452), (18.274, 1.464),
    (18.291, 1.492), (18.308, 1.495), (18.325, 1.475), (18.342, 1.492), (18.358, 1.483), (18.376, 1.545),
    (18.393, 1.523), (18.409, 1.517), (18.426, 1.447), (18.442, 1.368), (18.459, 1.408), (18.476, 1.360),
    (18.493, 1.326), (18.508, 1.340), (18.525, 1.325), (18.542, 1.340), (18.559, 1.357), (18.576, 1.368),
    (18.593, 1.385), (18.610, 1.394), (18.625, 1.377), (18.644, 1.377), (18.661, 1.360), (18.676, 1.382),
    (18.693, 1.399), (18.710, 1.363), (18.727, 1.402), (18.744, 1.438), (18.761, 1.447), (18.776, 1.408),
    (18.793, 1.427), (18.809, 1.458), (18.826, 1.458), (18.842, 1.483), (18.859, 1.447), (18.875, 1.455),
    (18.892, 1.388), (18.908, 1.380), (18.926, 1.410), (18.943, 1.438), (18.959, 1.441), (18.977, 1.416),
    (18.992, 1.441), (19.009, 1.486), (19.024, 1.531), (19.041, 1.458), (19.058, 1.492), (19.075, 1.464),
    (19.092, 1.452), (19.109, 1.481), (19.124, 1.461), (19.142, 1.447), (19.158, 1.438), (19.175, 1.467),
    (19.190, 1.461), (19.209, 1.433), (19.226, 1.385), (19.243, 1.329), (19.260, 1.321), (19.277, 1.335),
    (19.292, 1.357), (19.310, 1.349), (19.326, 1.318), (19.343, 1.309), (19.360, 1.363), (19.379, 1.391),
    (19.397, 1.402), (19.420, 1.410), (19.441, 1.396), (19.457, 1.424), (19.475, 1.422), (19.492, 1.436),
    (19.510, 1.472), (19.525, 1.486), (19.541, 1.514), (19.557, 1.534), (19.575, 1.604), (19.592, 1.666),
    (19.608, 1.657), (19.626, 1.604), (19.641, 1.601), (19.657, 1.509), (19.675, 1.523), (19.692, 1.511),
    (19.710, 1.509), (19.726, 1.542), (19.742, 1.540), (19.761, 1.568), (19.776, 1.554), (19.794, 1.573),
    (19.813, 1.587), (19.829, 1.593), (19.842, 1.632), (19.860, 1.601), (19.876, 1.688), (19.891, 1.610),
    (19.907, 1.531), (19.926, 1.542), (19.942, 1.548), (19.960, 1.523), (19.976, 1.528), (19.992, 1.582),
    (20.008, 1.643), (20.026, 1.643), (20.042, 1.587), (20.061, 1.525), (20.077, 1.520), (20.095, 1.509),
    (20.111, 1.475), (20.129, 1.478), (20.145, 1.444), (20.161, 1.455), (20.179, 1.455), (20.195, 1.481),
    (20.211, 1.559), (20.227, 1.604), (20.245, 1.576), (20.262, 1.551), (20.280, 1.542), (20.295, 1.540),
    (20.311, 1.565), (20.327, 1.576), (20.343, 1.590), (20.359, 1.548), (20.377, 1.540), (20.394, 1.548),
    (20.409, 1.557), (20.425, 1.531), (20.443, 1.528), (20.459, 1.570), (20.475, 1.562), (20.490, 1.517),
    (20.508, 1.554), (20.525, 1.523), (20.541, 1.495), (20.559, 1.517), (20.575, 1.534), (20.591, 1.500),
    (20.609, 1.520), (20.624, 1.497), (20.643, 1.582), (20.659, 1.582), (20.677, 1.584), (20.693, 1.629),
    (20.709, 1.520), (20.726, 1.503), (20.742, 1.514), (20.759, 1.565), (20.777, 1.570), (20.793, 1.556),
    (20.809, 1.520), (20.826, 1.520), (20.842, 1.497), (20.860, 1.481), (20.876, 1.452), (20.891, 1.424),
    (20.909, 1.436), (20.926, 1.438), (20.942, 1.430), (20.960, 1.427), (20.976, 1.388), (20.992, 1.405),
    (21.000, 1.408),
]
pwv_phy_err = 0.016
pwv_phy_err_wide = [(18.124, 0.03), (18.142, 0.05), (18.159, 0.03), (19.592, 0.03), (19.608, 0.03),
                    (19.876, 0.03), (20.643, 0.04), (20.659, 0.04), (20.677, 0.04), (20.693, 0.04),
                    (20.709, 0.03), (20.759, 0.035), (20.777, 0.035)]
pwv_tan = [(18.083, 18.100), (18.134, 18.151), (18.167, 18.183), (18.367, 18.383), (18.417, 18.434),
           (18.683, 18.700), (18.833, 18.849), (18.866, 18.882), (19.016, 19.033), (19.167, 19.182),
           (19.583, 19.600), (19.884, 19.917), (20.167, 20.184), (20.566, 20.582)]
pwv_brown = [(18.101, 18.116), (18.317, 18.333), (18.800, 18.817), (18.849, 18.866), (19.000, 19.016),
             (19.150, 19.166), (19.366, 19.382), (19.435, 19.451), (19.483, 19.500), (19.517, 19.534),
             (19.568, 19.583), (19.618, 19.650), (19.801, 19.832), (19.850, 19.867), (19.984, 20.000),
             (20.200, 20.216), (20.234, 20.250), (20.300, 20.332), (20.367, 20.383), (20.434, 20.450),
             (20.466, 20.483), (20.550, 20.566), (20.600, 20.682), (20.700, 20.800), (20.867, 20.883),
             (20.932, 20.949)]

# ---------------- Panel 4: log10 liquid water path ----------------
lwp_mwr = [
    (18.000, 2.60, 2.68), (18.009, 2.65, 2.70), (18.037, 2.62, 2.68), (18.063, 2.73, 2.70), (18.075, 2.65, 2.72),
    (18.096, 2.45, 2.50), (18.121, 2.86, 2.78), (18.147, 2.34, 2.42), (18.153, 2.45, 2.40), (18.177, 2.86, 2.80),
    (18.202, 2.32, 2.28), (18.217, 2.37, 2.42), (18.238, 2.23, 2.16), (18.260, 2.42, 2.48), (18.289, 2.65, 2.60),
    (18.310, 2.62, 2.66), (18.335, 2.78, 2.72), (18.345, 2.55, 2.62), (18.356, 2.65, 2.70), (18.386, 2.52, 2.58),
    (18.405, 2.62, 2.67), (18.432, 2.33, 2.40), (18.462, 2.35, 2.38), (18.482, 2.18, 2.25), (18.493, 2.30, 2.27),
    (18.528, 2.11, 2.15), (18.554, 2.02, 2.08), (18.575, 2.25, 2.30), (18.595, 2.35, 2.40), (18.615, 2.45, 2.42),
    (18.645, 2.24, 2.28), (18.670, 2.25, 2.20), (18.686, 2.35, 2.38), (18.702, 2.06, 2.12), (18.722, 2.16, 2.05),
    (18.740, 2.40, 2.44), (18.763, 2.57, 2.55), (18.788, 2.52, 2.58), (18.819, 2.60, 2.62), (18.837, 2.43, 2.55),
    (18.844, 2.65, 2.62), (18.859, 2.62, 2.66), (18.875, 2.52, 2.55), (18.895, 2.29, 2.20), (18.921, 2.36, 2.40),
    (18.951, 2.27, 2.33), (18.982, 2.52, 2.55), (19.022, 2.68, 2.70), (19.033, 2.39, 2.50), (19.063, 2.61, 2.66),
    (19.094, 2.47, 2.55), (19.109, 2.39, 2.45), (19.124, 2.34, 2.40), (19.137, 2.14, 2.25), (19.165, 2.52, 2.50),
    (19.196, 2.39, 2.45), (19.221, 2.06, 2.15), (19.246, 2.14, 2.10), (19.267, 1.96, 2.00), (19.277, 1.63, 1.70),
    (19.289, 1.06, 1.10), (19.302, 1.76, 1.65), (19.317, 1.47, 1.40), (19.332, 1.47, 1.35), (19.347, 1.65, 1.55),
    (19.373, 2.04, 2.00), (19.389, 2.09, 2.15), (19.410, 2.29, 2.33), (19.432, 2.39, 2.42), (19.461, 2.34, 2.45),
    (19.472, 2.42, 2.45), (19.501, 2.60, 2.62), (19.512, 2.52, 2.60), (19.526, 2.68, 2.70), (19.548, 2.52, 2.62),
    (19.559, 2.65, 2.66), (19.584, 2.80, 2.75), (19.599, 2.74, 2.78), (19.610, 2.78, 2.74), (19.624, 2.70, 2.90),
    (19.657, 2.55, 2.60), (19.679, 2.32, 2.35), (19.701, 2.22, 2.25), (19.730, 2.19, 2.15), (19.745, 1.96, 2.00),
    (19.766, 1.86, 1.80), (19.781, 1.78, 1.70), (19.795, 1.73, 1.55), (19.806, 1.65, 1.70), (19.825, 2.74, 2.65),
    (19.843, 2.80, 2.72), (19.854, 2.55, 2.70), (19.868, 2.78, 2.74), (19.886, 2.73, 2.70), (19.901, 2.29, 2.40),
    (19.912, 1.68, 1.80), (19.923, 1.37, 1.45), (19.930, 1.32, 1.40), (19.937, 1.60, 1.55), (19.948, 1.32, 1.50),
    (19.959, 2.19, 2.05), (19.969, 1.52, 1.75), (19.977, 1.96, 2.10), (19.992, 2.55, 2.50), (20.007, 2.60, 2.65),
    (20.022, 2.39, 2.45), (20.043, 1.96, 2.00), (20.063, 1.45, 1.60), (20.080, 1.81, 1.45), (20.089, 1.42, 1.20),
    (20.096, 0.91, 0.95), (20.104, 1.17, 1.05), (20.114, 1.04, 0.80), (20.124, 1.32, 0.95), (20.134, 1.04, 0.75),
    (20.145, 1.19, 0.70), (20.157, 1.26, 0.85), (20.167, 1.12, 0.80), (20.175, 1.24, 0.90), (20.185, 0.96, 1.00),
    (20.193, 1.06, 1.10), (20.201, 1.96, 1.80), (20.206, 2.42, 2.30), (20.216, 2.34, 2.40), (20.226, 2.19, 2.30),
    (20.236, 2.39, 2.00), (20.246, 1.83, 1.70), (20.255, 1.32, 1.10), (20.267, 1.24, 1.05), (20.284, 1.23, 1.00),
    (20.292, 1.68, 1.60), (20.302, 2.11, 2.05), (20.318, 2.19, 2.25), (20.333, 2.42, 2.35), (20.343, 2.32, 2.40),
    (20.358, 2.34, 2.38), (20.374, 2.42, 2.50), (20.389, 2.47, 2.52), (20.409, 2.42, 2.48), (20.425, 2.52, 2.56),
    (20.440, 2.60, 2.62), (20.455, 2.70, 2.74), (20.470, 2.75, 2.80), (20.486, 2.70, 2.72), (20.499, 2.62, 2.68),
    (20.516, 2.68, 2.66), (20.532, 2.55, 2.60), (20.547, 2.50, 2.45), (20.562, 2.52, 2.55), (20.577, 2.39, 2.45),
    (20.593, 2.22, 2.30), (20.608, 2.50, 2.55), (20.623, 2.91, 3.05), (20.644, 2.80, 2.75), (20.659, 2.50, 2.55),
    (20.674, 2.34, 2.40), (20.694, 2.29, 2.20), (20.710, 2.29, 2.35), (20.725, 2.45, 2.50), (20.740, 2.60, 2.62),
    (20.756, 2.65, 2.60), (20.776, 2.62, 2.66), (20.798, 2.70, 2.72), (20.812, 2.78, 2.76), (20.827, 2.65, 2.68),
    (20.842, 2.39, 2.48), (20.857, 2.50, 2.52), (20.868, 2.32, 2.40), (20.883, 2.45, 2.48), (20.898, 2.39, 2.42),
    (20.913, 2.29, 2.35), (20.929, 2.42, 2.40), (20.944, 2.32, 2.38), (20.959, 2.34, 2.36), (20.979, 2.04, 2.10),
    (20.995, 1.99, 2.05), (21.000, 1.93, 2.00),
]
lwp_phy = [
    (18.000, 2.65), (18.014, 2.70), (18.030, 2.73), (18.045, 2.69), (18.060, 2.74), (18.075, 2.73), (18.091, 2.50),
    (18.106, 2.57), (18.124, 2.83), (18.142, 2.36), (18.157, 2.42), (18.175, 2.75), (18.190, 2.50), (18.208, 2.33),
    (18.223, 2.37), (18.240, 2.31), (18.257, 2.45), (18.274, 2.55), (18.291, 2.61), (18.308, 2.64), (18.325, 2.66),
    (18.340, 2.73), (18.358, 2.71), (18.376, 2.65), (18.391, 2.59), (18.408, 2.64), (18.424, 2.52), (18.440, 2.39),
    (18.457, 2.39), (18.473, 2.37), (18.490, 2.27), (18.506, 2.23), (18.523, 2.15), (18.541, 2.11), (18.556, 2.18),
    (18.574, 2.29), (18.590, 2.33), (18.607, 2.42), (18.623, 2.32), (18.641, 2.21), (18.656, 2.21), (18.673, 2.33),
    (18.689, 2.21), (18.705, 2.16), (18.722, 2.23), (18.737, 2.45), (18.755, 2.52), (18.773, 2.53), (18.788, 2.53),
    (18.803, 2.57), (18.819, 2.64), (18.834, 2.57), (18.849, 2.64), (18.859, 2.60), (18.875, 2.42), (18.890, 2.36),
    (18.905, 2.33), (18.921, 2.37), (18.939, 2.39), (18.954, 2.39), (18.971, 2.50), (18.989, 2.65), (19.005, 2.65),
    (19.022, 2.68), (19.041, 2.51), (19.058, 2.65), (19.073, 2.61), (19.089, 2.50), (19.106, 2.42), (19.122, 2.33),
    (19.140, 2.29), (19.155, 2.42), (19.173, 2.55), (19.188, 2.50), (19.206, 2.33), (19.224, 2.14), (19.239, 2.14),
    (19.257, 2.04), (19.274, 1.73), (19.290, 0.66), (19.310, 1.47), (19.326, 0.96), (19.343, 1.08), (19.359, 1.37),
    (19.381, 1.96), (19.406, 2.29), (19.428, 2.37), (19.450, 2.43), (19.472, 2.45), (19.490, 2.57), (19.508, 2.70),
    (19.526, 2.70), (19.544, 2.71), (19.559, 2.60), (19.574, 2.74), (19.592, 2.83), (19.610, 2.80), (19.624, 2.78),
    (19.641, 2.92), (19.657, 2.57), (19.674, 2.39), (19.690, 2.24), (19.708, 2.22), (19.726, 2.16), (19.741, 1.99),
    (19.759, 1.88), (19.774, 1.79), (19.790, 1.67), (19.806, 1.93), (19.823, 2.69), (19.841, 2.74), (19.857, 2.64),
    (19.874, 2.74), (19.890, 2.64), (19.908, 1.96), (19.923, 1.09), (19.941, 0.91), (19.961, 1.93), (19.977, 1.83),
    (19.992, 2.29), (20.009, 2.59), (20.025, 2.42), (20.043, 1.99), (20.060, 1.58), (20.075, 1.22), (20.092, 0.76),
    (20.100, -1.0), (20.150, np.nan), (20.193, 1.28), (20.206, 2.23), (20.223, 2.15), (20.238, 2.28),
    (20.250, -1.0), (20.278, -1.0), (20.292, 1.35), (20.308, 1.86), (20.325, 2.10), (20.340, 2.29), (20.355, 2.22),
    (20.374, 2.22), (20.389, 2.45), (20.406, 2.45), (20.425, 2.50), (20.440, 2.56), (20.455, 2.73), (20.474, 2.65),
    (20.491, 2.74), (20.509, 2.68), (20.526, 2.68), (20.544, 2.42), (20.560, 2.42), (20.577, 2.43), (20.591, 2.24),
    (20.608, 2.42), (20.628, 2.95), (20.644, 2.73), (20.661, 2.52), (20.677, 2.37), (20.694, 2.29), (20.707, 2.23),
    (20.727, 2.47), (20.743, 2.57), (20.761, 2.61), (20.776, 2.59), (20.791, 2.65), (20.809, 2.78), (20.827, 2.66),
    (20.842, 2.52), (20.857, 2.50), (20.875, 2.43), (20.893, 2.42), (20.908, 2.39), (20.924, 2.32), (20.939, 2.37),
    (20.957, 2.38), (20.974, 2.24), (20.990, 2.14), (21.000, 1.83),
]
lwp_phy_err = 0.05
# (time, down, up) where the retrieval spread is wider
lwp_phy_err_wide = [(18.142, 0.22, 0.05), (19.274, 0.15, 0.08), (19.290, 0.9, 0.45), (19.310, 0.35, 0.1),
                    (19.326, 1.2, 0.35), (19.343, 0.9, 0.3), (19.359, 0.3, 0.15), (19.790, 0.12, 0.06),
                    (19.806, 0.1, 0.06), (19.908, 0.2, 0.1), (19.923, 0.9, 0.2), (19.941, 1.1, 0.25),
                    (19.961, 0.3, 0.1), (20.075, 0.4, 0.15), (20.092, 0.9, 0.2), (20.193, 0.3, 0.1),
                    (21.000, 0.12, 0.06)]
lwp_adi = [
    (18.000, 2.57), (18.009, 2.60), (18.035, 2.60), (18.045, 2.57), (18.073, 2.87), (18.091, 2.52), (18.106, 2.65),
    (18.126, 2.95), (18.142, 2.79), (18.157, 2.41), (18.177, 2.93), (18.192, 2.74), (18.208, 2.45), (18.226, 2.39),
    (18.248, 2.46), (18.274, 2.55), (18.291, 2.64), (18.308, 2.65), (18.340, 2.86), (18.355, 2.77), (18.373, 2.76),
    (18.391, 2.89), (18.409, 2.76), (18.424, 2.67), (18.440, 2.51), (18.457, 2.52), (18.475, 2.50), (18.491, 2.31),
    (18.508, 2.27), (18.525, 2.20), (18.544, 2.19), (18.559, 2.25), (18.574, 2.27), (18.590, 2.32), (18.608, 2.47),
    (18.625, 2.32), (18.641, 2.21), (18.658, 2.21), (18.674, 2.37), (18.691, 2.38), (18.707, 2.16), (18.725, 2.24),
    (18.742, 2.43), (18.760, 2.46), (18.778, 2.48), (18.793, 2.52), (18.811, 2.62), (18.827, 2.57), (18.844, 2.64),
    (18.859, 2.80), (18.875, 2.78), (18.890, 2.34), (18.907, 2.27), (18.924, 2.41), (18.941, 2.42), (18.956, 2.41),
    (18.977, 2.54), (18.992, 2.56), (19.009, 2.70), (19.025, 2.84), (19.043, 2.68), (19.061, 2.59), (19.078, 2.55),
    (19.094, 2.51), (19.109, 2.65), (19.124, 2.61), (19.142, 2.27), (19.160, 2.42), (19.175, 2.55), (19.192, 2.51),
    (19.209, 2.46), (19.226, 2.19), (19.241, 2.16), (19.259, 2.14), (19.275, 1.88), (19.290, 1.01), (19.308, 1.76),
    (19.326, 1.47), (19.343, 1.50), (19.375, 2.11), (19.392, 2.09), (19.410, 2.29), (19.424, 2.37), (19.445, 2.42),
    (19.461, 2.45), (19.477, 2.47), (19.491, 2.52), (19.508, 2.74), (19.526, 2.68), (19.543, 2.95), (19.559, 2.68),
    (19.576, 2.96), (19.592, 3.02), (19.610, 3.09), (19.624, 3.05), (19.641, 3.06), (19.657, 2.73), (19.674, 2.70),
    (19.690, 2.47), (19.708, 2.29), (19.726, 2.27), (19.742, 1.95), (19.759, 2.06), (19.775, 1.81), (19.792, 1.78),
    (19.809, 2.97), (19.825, 3.04), (19.841, 2.86), (19.857, 2.97), (19.876, 3.19), (19.892, 3.01), (19.908, 2.04),
    (19.924, 1.51), (19.941, 2.74), (19.958, 2.80), (19.975, 1.63), (19.992, 2.60), (20.009, 2.93), (20.025, 3.00),
    (20.041, 2.68), (20.073, 1.22), (20.094, 1.73), (20.109, 1.99), (20.129, 1.45), (20.150, np.nan),
    (20.193, 1.99), (20.211, 2.68), (20.226, 3.05), (20.241, 2.65), (20.259, 1.42), (20.275, 1.86), (20.292, 1.63),
    (20.310, 1.99), (20.328, 2.20), (20.343, 2.33), (20.358, 2.00), (20.377, 2.09), (20.394, 2.19), (20.409, 2.32),
    (20.427, 2.23), (20.442, 2.42), (20.458, 2.73), (20.476, 2.89), (20.493, 2.88), (20.509, 2.90), (20.542, 2.88),
    (20.557, 2.65), (20.574, 2.70), (20.591, 2.37), (20.608, 2.86), (20.628, 2.88), (20.644, 2.78), (20.661, 2.52),
    (20.677, 2.34), (20.692, 2.32), (20.708, 2.04), (20.727, 2.46), (20.743, 2.57), (20.761, 2.65), (20.776, 2.78),
    (20.794, 2.78), (20.809, 2.80), (20.827, 2.73), (20.842, 2.52), (20.859, 2.55), (20.878, 2.42), (20.893, 2.42),
    (20.910, 2.50), (20.927, 2.45), (20.942, 2.50), (20.959, 2.52), (20.975, 2.24), (20.990, 2.09), (21.000, 1.93),
]
lwp_adi_err = 0.07
lwp_adi_err_wide = [(19.290, 0.45, 0.45), (19.308, 0.15, 0.2), (19.326, 0.15, 0.15), (20.094, 0.5, 0.2),
                    (20.109, 0.6, 0.2), (20.129, 0.9, 0.2), (20.292, 0.2, 0.2), (20.358, 0.15, 0.1),
                    (20.377, 0.15, 0.1)]
lwp_cyan = [(18.849, 18.900), (19.617, 19.784), (19.817, 19.834), (20.000, 20.067), (20.617, 20.700)]
lwp_gray = [(19.283, 19.299), (20.101, 20.133), (20.250, 20.284)]
lwp_yellow = [(20.133, 20.184)]

# ---------------- Panel 5: Phy-Iter data quality flags ----------------
dq_step = 0.0143  # retrieval cadence, hours
dq_runs = {
    0: [(18.007, 18.122), (18.160, 18.426), (18.454, 18.843), (18.909, 19.276), (19.307, 19.558),
        (19.586, 19.608), (19.792, 19.805), (19.842, 19.990), (20.071, 20.093), (20.191, 20.242),
        (20.290, 20.607), (20.709, 21.000)],
    3: [(20.108, 20.108), (20.274, 20.274)],
    4: [(19.291, 19.291), (20.126, 20.126), (20.257, 20.257)],
    5: [(20.137, 20.174)],
    6: [(18.140, 18.140), (18.439, 18.439), (19.575, 19.575), (20.624, 20.624)],
    9: [(20.624, 20.624)],
    10: [(18.856, 18.856), (19.623, 19.641), (19.824, 19.824), (20.008, 20.008), (20.624, 20.641)],
    11: [(18.859, 18.891), (19.623, 19.776), (19.824, 19.824), (20.006, 20.056), (20.624, 20.690)],
}


def cols(rows):
    a = np.array(rows, dtype=float)
    return [a[:, i] for i in range(a.shape[1])]


def widen(t, base, wide):
    dn = np.full_like(t, base)
    up = np.full_like(t, base)
    for row in wide:
        i = np.argmin(np.abs(t - row[0]))
        dn[i] = row[1]
        up[i] = row[2] if len(row) > 2 else row[1]
    return dn, up


def add_spans(ax, intervals, color):
    for a, b in intervals:
        ax.axvspan(a, b, color=color, alpha=0.5, lw=0, zorder=5)


fmt = FuncFormatter(lambda v, p: f'{v:g}')


def style(ax, ylim, yticks, ylabel):
    ax.set_xlim(18, 21)
    ax.set_ylim(*ylim)
    ax.set_xticks([18, 18.5, 19, 19.5, 20, 20.5, 21])
    ax.set_yticks(yticks)
    ax.xaxis.set_major_formatter(fmt)
    ax.yaxis.set_major_formatter(fmt)
    ax.spines['top'].set_visible(False)
    for s in ('left', 'right'):
        ax.spines[s].set_color(AXBLUE)
        ax.spines[s].set_linewidth(0.65)
    ax.spines['bottom'].set_color(DARK)
    ax.spines['bottom'].set_linewidth(0.65)
    ax.tick_params(axis='x', direction='in', length=6.5, width=0.65, colors=DARK,
                   labelsize=9.3, pad=6.6, top=False)
    ax.tick_params(axis='y', direction='in', length=6.5, width=0.65, colors=AXBLUE,
                   labelsize=9.3, pad=6.6, right=False)
    ax.set_xlabel('UTC hours on 20250406', fontsize=11.3, color=DARK, labelpad=8.0)
    ax.set_ylabel(ylabel, fontsize=11.3, color=AXBLUE)
    ax.yaxis.set_label_coords(-0.041, 0.5)


def legend(ax, x, y):
    leg = ax.legend(loc='upper left', bbox_to_anchor=(x, y), frameon=False, fontsize=9.3,
                    handlelength=6.06, handletextpad=0.64, labelspacing=0.52,
                    borderpad=0, borderaxespad=0)
    leg.set_zorder(10)
    return leg


fig = plt.figure(figsize=(12.75, 20), dpi=300)
left, width, height = 0.09804, 0.68706, 0.1513
bottoms = [0.7993, 0.6120, 0.4245, 0.2370, 0.0493]
ax1, ax2, ax3, ax4, ax5 = [fig.add_axes([left, b, width, height]) for b in bottoms]

# Panel 1
t, v2, v3 = cols(bt23_mwr)
tp, vp = cols(bt23_phy)
ax1.plot(t, v2, color=C2, lw=0.9, label='MWR 2C (tan = wet window)', zorder=2)
ax1.plot(t, v3, color=C3, lw=1.0, label='MWR 3C', zorder=2.1)
ax1.plot(tp, vp, color=CPHY, lw=2.1, label='Phy-Iter', zorder=3)
add_spans(ax1, wet_window, 'tan')
style(ax1, (22.4, 59.4), [25, 30, 35, 40, 45, 50, 55], 'Zenith BT 23 GHz, K')
legend(ax1, 0.0951, 0.913)

# Panel 2
t, v2, v3 = cols(bt31_mwr)
tp, vp = cols(bt31_phy)
ax2.plot(t, v2, color=C2, lw=0.9, label='MWR2C', zorder=2)
ax2.plot(t, v3, color=C3, lw=1.0, label='MWR 3C (tan = rain flag)', zorder=2.1)
ax2.plot(tp, vp, color=CPHY, lw=2.1, label='Phy-Iter', zorder=3)
style(ax2, (12.9, 72.3), [20, 30, 40, 50, 60, 70], 'Zenith BT 31 GHz, K')
legend(ax2, 0.1077, 0.910)

# Panel 3
t2, v2 = cols(pwv_2c)
t3, v3 = cols(pwv_3c)
tp, vp = cols(pwv_phy)
dn, up = widen(tp, pwv_phy_err, pwv_phy_err_wide)
ax3.fill_between(tp, vp - dn, vp + up, color=CPHY, alpha=0.2, lw=0, zorder=1.5)
ax3.plot(t2, v2, color=C2, lw=0.9, label='MWR 2C PWV', zorder=2)
ax3.plot(t3, v3, color=C3, lw=1.0, label='MWR 3C PWV', zorder=2.1)
ax3.plot(tp, vp, color=CPHY, lw=2.1,
         label='Phy-Iter PWV\n(tan = MWR 2C only)\n(brown = MWR 3C only)', zorder=3)
add_spans(ax3, pwv_tan, 'tan')
add_spans(ax3, pwv_brown, 'brown')
style(ax3, (1.130, 1.9285), [1.2, 1.3, 1.4, 1.5, 1.6, 1.7, 1.8, 1.9], 'Precip. Water Vapor, mm')
leg3 = legend(ax3, 0.0301, 0.893)
leg3.get_texts()[2].set_linespacing(1.51)

# Panel 4
t, v2, v3 = cols(lwp_mwr)
tp, vp = cols(lwp_phy)
ta, va = cols(lwp_adi)
dn, up = widen(tp, lwp_phy_err, lwp_phy_err_wide)
ax4.fill_between(tp, vp - dn, vp + up, color=CPHY, alpha=0.2, lw=0, zorder=1.5)
dn, up = widen(ta, lwp_adi_err, lwp_adi_err_wide)
ax4.fill_between(ta, va - dn, va + up, color=CADI, alpha=0.2, lw=0, zorder=1.6)
ax4.plot(t, v2, color=C2, lw=0.9, label='MWR 2C LWP', zorder=2)
ax4.plot(t, v3, color=C3, lw=1.0, label='MWR 3C LWP', zorder=2.1)
ax4.plot(tp, vp, color=CPHY, lw=2.1, label='Phy-Iter LWP', zorder=3)
ax4.plot(ta, va, color=CADI, lw=1.1, label='Adiabatic LWP', zorder=3.1)
add_spans(ax4, lwp_cyan, 'cyan')
add_spans(ax4, lwp_gray, 'lightgray')
add_spans(ax4, lwp_yellow, 'yellow')
style(ax4, (-0.10, 3.54), [0, 0.5, 1, 1.5, 2, 2.5, 3, 3.5],
      'log10 Liquid Water Path, log10(g/m$^{2}$)')
legend(ax4, 0.0658, 0.281)

# Panel 5
dq_times = np.arange(18.007, 21.0 + 1e-6, dq_step)
for flag, runs in dq_runs.items():
    for a, b in runs:
        sel = dq_times[(dq_times >= a - dq_step / 2) & (dq_times < b + dq_step / 2)]
        ax5.plot(sel, np.full_like(sel, flag), 'o', ms=1.9, color=CPHY, mec='none', zorder=3)
style(ax5, (-0.52, 11.53), [0, 2, 4, 6, 8, 10], 'MWR Phy Iter DQ Flag')

fig.savefig('out.png', dpi=300)
